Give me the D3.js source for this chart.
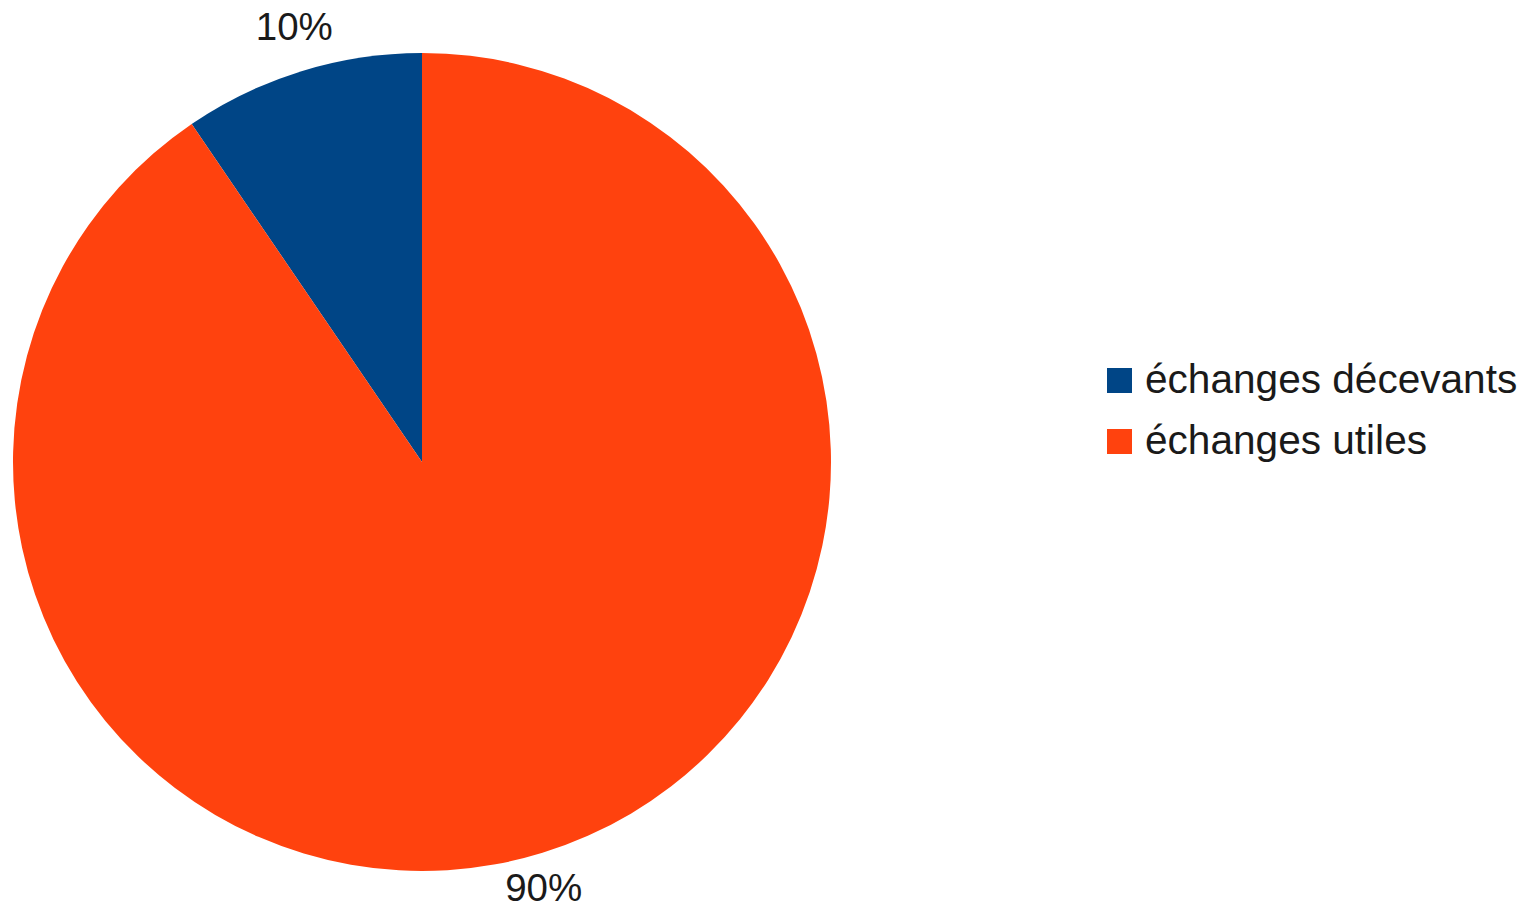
<!DOCTYPE html>
<html>
<head>
<meta charset="utf-8">
<script src="https://cdn.jsdelivr.net/npm/d3@7"></script>
<style>
  html, body { margin: 0; padding: 0; background: #ffffff; }
  svg { display: block; }
</style>
</head>
<body>
<svg id="chart" width="1524" height="910"></svg>
<script>
const categories = ["échanges décevants", "échanges utiles"];
const values = [9.52, 90.48];
const labels = ["10%", "90%"];
const colors = ["#004586", "#ff420e"];

const svg = d3.select("#chart");
const cx = 422, cy = 462, R = 409;
const font = "'Liberation Sans', Arial, sans-serif";

const pie = d3.pie().sort(null).startAngle(0).endAngle(-2 * Math.PI);
const arcs = pie(values);
const arc = d3.arc().innerRadius(0).outerRadius(R);

const g = svg.append("g").attr("transform", `translate(${cx},${cy})`);
g.selectAll("path").data(arcs).enter().append("path")
  .attr("d", arc)
  .attr("fill", (d, i) => colors[i]);

// labels outside along mid-angle
const labelArc = d3.arc().innerRadius(R + 4).outerRadius(R + 4);
g.selectAll("text.lbl").data(arcs).enter().append("text")
  .attr("class", "lbl")
  .attr("font-family", font)
  .attr("font-size", 38.5)
  .attr("fill", "#1a1a1a")
  .attr("text-anchor", "middle")
  .attr("x", d => labelArc.centroid(d)[0] + (labelArc.centroid(d)[1] < 0 ? -6 : 0))
  .attr("y", d => { const p = labelArc.centroid(d); return p[1] < 0 ? p[1] - 27 : p[1] + 44; })
  .text((d, i) => labels[i]);

// legend
const leg = svg.append("g").attr("transform", "translate(1107,368)");
const items = leg.selectAll("g").data(categories).enter().append("g")
  .attr("transform", (d, i) => `translate(0,${i * 61})`);
items.append("rect").attr("width", 25).attr("height", 25)
  .attr("fill", (d, i) => colors[i]);
items.append("text")
  .attr("x", 38).attr("y", 25)
  .attr("font-family", font)
  .attr("font-size", 40.6)
  .attr("fill", "#1a1a1a")
  .text(d => d);
</script>
</body>
</html>
